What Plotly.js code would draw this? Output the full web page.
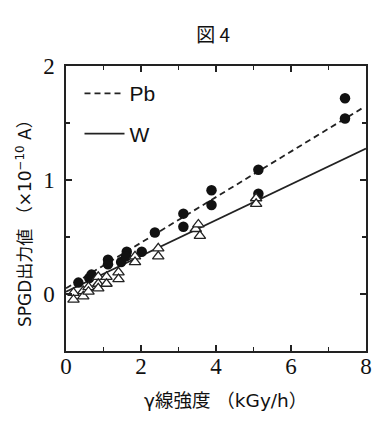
<!DOCTYPE html>
<html>
<head>
<meta charset="utf-8">
<script src="https://cdn.plot.ly/plotly-3.0.1.min.js"></script>
<style>html,body{margin:0;padding:0;background:#fff;}#chart{width:387px;height:428px;}</style>
</head>
<body>
<div id="chart"></div>
<script>
// Pb (filled circles)
var pbX = [0.33, 0.62, 0.68, 1.12, 1.12, 1.47, 1.62, 1.60, 2.02, 2.37, 3.13, 3.13, 3.88, 3.88, 5.13, 5.13, 7.44, 7.44];
var pbY = [0.10, 0.14, 0.17, 0.30, 0.26, 0.28, 0.37, 0.33, 0.37, 0.54, 0.705, 0.59, 0.91, 0.78, 1.09, 0.88, 1.717, 1.54];
// W (open triangles)
var wX = [0.20, 0.20, 0.46, 0.46, 0.60, 0.60, 0.86, 0.86, 0.86, 1.08, 1.08, 1.40, 1.40, 1.84, 1.84, 2.46, 2.46, 3.46, 3.53, 3.57, 5.07, 5.07];
var wY = [0.01, -0.05, 0.025, -0.02, 0.06, 0.02, 0.15, 0.09, 0.05, 0.15, 0.09, 0.19, 0.13, 0.33, 0.28, 0.40, 0.33, 0.57, 0.61, 0.51, 0.84, 0.79];
// fitted lines
var pbLineX = [0, 7.88];
var pbLineY = [0.05, 1.626];
var wLineX = [0, 8];
var wLineY = [0.02, 1.276];
// ticks
var xTicks = [0, 2, 4, 6, 8];
var yTicks = [0, 1, 2];

var serif = "'Liberation Serif', 'Times New Roman', Times, serif";
var sans = "'DejaVu Sans', 'Noto Sans CJK JP', sans-serif";

var traces = [
  {x: pbLineX, y: pbLineY, mode: 'lines', name: 'Pb', legendgroup: 'a',
   line: {color: '#222', width: 1.8, dash: '6px,4px'}},
  {x: wLineX, y: wLineY, mode: 'lines', name: 'W', legendgroup: 'b',
   line: {color: '#222', width: 1.8}},
  {x: pbX, y: pbY, mode: 'markers', showlegend: false,
   marker: {symbol: 'circle', size: 10.5, color: '#111'}},
  {x: wX, y: wY, mode: 'markers', showlegend: false,
   marker: {symbol: 'triangle-up', size: 10, color: '#fff', line: {color: '#222', width: 1.3}}}
];

var axisCommon = {
  showline: true, linecolor: '#222', linewidth: 1.6, mirror: 'ticks',
  ticks: 'inside', ticklen: 6, tickwidth: 1.3, tickcolor: '#222',
  showgrid: false, zeroline: false,
  tickfont: {family: serif, size: 23, color: '#111'}
};

var layout = {
  width: 387, height: 428,
  margin: {l: 66, r: 21, t: 66, b: 77},
  paper_bgcolor: '#fff', plot_bgcolor: '#fff',
  title: {text: '図 4', font: {family: "'Noto Sans CJK JP', sans-serif", size: 19, color: '#111'},
          x: 0.551, xref: 'container', xanchor: 'center', y: 0.918, yref: 'container', yanchor: 'middle'},
  xaxis: Object.assign({}, axisCommon, {range: [0, 8], tickvals: xTicks, ticklabelstandoff: -6,
    minor: {dtick: 1, ticks: 'inside', ticklen: 4, tickwidth: 1.3, tickcolor: '#222'}}),
  yaxis: Object.assign({}, axisCommon, {range: [-0.5, 2], tickvals: yTicks, ticklabelstandoff: 5,
    minor: {dtick: 0.5, ticks: 'inside', ticklen: 4, tickwidth: 1.3, tickcolor: '#222'}}),
  showlegend: true,
  legend: {x: 0.045, y: 0.975, xanchor: 'left', yanchor: 'top', bgcolor: 'rgba(0,0,0,0)',
           font: {family: "'Liberation Sans', Arial, sans-serif", size: 21, color: '#111'},
           traceorder: 'grouped', tracegroupgap: 10, itemwidth: 40},
  annotations: [
    {text: 'γ線強度 （kGy/h）', xref: 'paper', yref: 'paper', x: 0.533, y: -0.172,
     xanchor: 'center', yanchor: 'middle', showarrow: false,
     font: {family: sans, size: 18.5, color: '#111'}},
    {text: 'SPGD出力値 （×10<sup>−10</sup> A）', xref: 'paper', yref: 'paper', x: -0.14, y: 0.463,
     xanchor: 'center', yanchor: 'middle', showarrow: false, textangle: -90,
     font: {family: sans, size: 17, color: '#111'}}
  ]
};

Plotly.newPlot('chart', traces, layout, {displayModeBar: false, staticPlot: true});
</script>
</body>
</html>
